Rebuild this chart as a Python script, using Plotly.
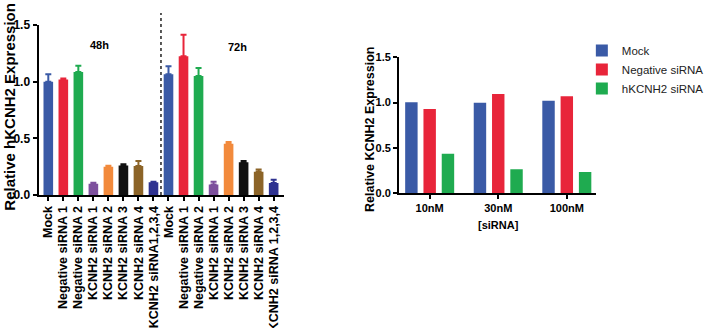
import plotly.graph_objects as go

# ---------------- data ----------------
left_labels = ["Mock", "Negative siRNA 1", "Negative siRNA 2", "KCNH2 siRNA 1",
               "KCNH2 siRNA 2", "KCNH2 siRNA 3", "KCNH2 siRNA 4", "KCNH2 siRNA1,2,3,4",
               "Mock", "Negative siRNA 1", "Negative siRNA 2", "KCNH2 siRNA 1",
               "KCNH2 siRNA 2", "KCNH2 siRNA 3", "KCNH2 siRNA 4", "KCNH2 siRNA 1,2,3,4"]
values_48h = [1.00, 1.02, 1.085, 0.10, 0.25, 0.26, 0.255, 0.112]
errors_48h = [0.065, 0.008, 0.055, 0.008, 0.008, 0.012, 0.045, 0.006]
values_72h = [1.065, 1.225, 1.05, 0.092, 0.452, 0.29, 0.205, 0.105]
errors_72h = [0.07, 0.19, 0.07, 0.025, 0.015, 0.01, 0.02, 0.03]
condition_colors = ["#3a5aa6", "#e8253a", "#1fab50", "#7d509d", "#f28a3c",
                    "#111111", "#8c6428", "#2f3290"]
time_labels = ["48h", "72h"]

right_categories = ["10nM", "30nM", "100nM"]
right_series = ["Mock", "Negative siRNA", "hKCNH2 siRNA"]
mock_vals = [1.003, 1.0, 1.022]
neg_vals = [0.93, 1.095, 1.07]
hkcnh2_vals = [0.435, 0.265, 0.235]
right_colors = ["#3a5aa6", "#e8253a", "#1fab50"]

# ---------------- figure ----------------
W, H = 709, 328
FONT = "Liberation Sans, Arial, sans-serif"
fig = go.Figure()

n_cond = len(values_48h)
bar_w = 0.64
for i in range(n_cond):
    xs = [i, i + n_cond]
    fig.add_trace(go.Bar(
        x=xs, y=[values_48h[i], values_72h[i]],
        width=bar_w, offset=-bar_w / 2,
        marker=dict(color=condition_colors[i], line=dict(width=0)),
        error_y=dict(type="data", symmetric=False,
                     array=[errors_48h[i], errors_72h[i]], arrayminus=[0, 0],
                     color=condition_colors[i], thickness=2, width=3),
        showlegend=False, xaxis="x", yaxis="y"))

right_vals = [mock_vals, neg_vals, hkcnh2_vals]
for name, vals, col in zip(right_series, right_vals, right_colors):
    fig.add_trace(go.Bar(
        x=list(range(len(right_categories))), y=vals, name=name,
        marker=dict(color=col, line=dict(width=0)),
        xaxis="x2", yaxis="y2"))

xr_left = [-0.65, len(left_labels) - 0.3]
tick_font_lx = dict(family=FONT, size=12.5, color="black", weight="bold")
tick_font_ly = dict(family=FONT, size=12, color="black", weight="bold")
tick_font_r = dict(family=FONT, size=11, color="black", weight="bold")

fig.update_layout(
    template="none",
    width=W, height=H, autosize=False,
    margin=dict(l=0, r=0, t=0, b=0),
    paper_bgcolor="white", plot_bgcolor="white",
    barmode="group", bargap=0.2, bargroupgap=0.32,
    font=dict(family=FONT, color="black"),
    xaxis=dict(domain=[40 / W, 295 / W], range=xr_left, automargin=False,
               tickvals=list(range(len(left_labels))), ticktext=left_labels,
               tickangle=-90, tickfont=tick_font_lx, ticks="outside", ticklen=4,
               tickwidth=1.5, tickcolor="black",
               showline=True, linecolor="black", linewidth=2,
               showgrid=False, zeroline=False, anchor="y"),
    yaxis=dict(domain=[1 - 195 / H, 1 - 25 / H], range=[0, 1.5], automargin=False,
               tickvals=[0, 0.5, 1.0, 1.5], ticktext=["0.0", "0.5", "1.0", "1.5"],
               tickfont=tick_font_ly, ticks="outside", ticklen=4, tickwidth=1.5,
               tickcolor="black", showline=True, linecolor="black", linewidth=2,
               showgrid=False, zeroline=False, anchor="x"),
    xaxis2=dict(domain=[414 / W, 619 / W], range=[-0.45, 2.43], automargin=False,
                tickvals=list(range(len(right_categories))), ticktext=right_categories,
                tickfont=tick_font_r, ticks="outside", ticklen=4, tickwidth=1.5,
                tickcolor="black", showline=True, linecolor="black", linewidth=1.5,
                showgrid=False, zeroline=False, anchor="y2"),
    yaxis2=dict(domain=[1 - 193.3 / H, 1 - 57.3 / H], range=[0, 1.5], automargin=False,
                tickvals=[0, 0.5, 1.0, 1.5], ticktext=["0.0", "0.5", "1.0", "1.5"],
                tickfont=tick_font_r, ticks="outside", ticklen=4, tickwidth=1.5,
                tickcolor="black", showline=True, linecolor="black", linewidth=1.5,
                showgrid=False, zeroline=False, anchor="x2"),
    legend=dict(x=604 / W, y=1 - 36 / H, xanchor="left", yanchor="top",
                font=dict(family=FONT, size=11.5, color="#222"),
                bgcolor="rgba(0,0,0,0)", tracegroupgap=0, itemwidth=30),
)

# dashed separator between 48h and 72h
sep_x = (n_cond - 0.5 - xr_left[0]) / (xr_left[1] - xr_left[0])
fig.add_shape(type="line", xref="x domain", yref="y domain",
              x0=sep_x, x1=sep_x, y0=0, y1=1.07,
              line=dict(color="black", width=1.3, dash="3px,3px"))

# time labels
fig.add_annotation(x=3.4, y=1.32, xref="x", yref="y", text=time_labels[0],
                   showarrow=False, font=dict(family=FONT, size=11, weight="bold"))
fig.add_annotation(x=12.6, y=1.31, xref="x", yref="y", text=time_labels[1],
                   showarrow=False, font=dict(family=FONT, size=11, weight="bold"))

# axis titles
fig.add_annotation(x=10 / W, y=1 - 107 / H, xref="paper", yref="paper",
                   text="Relative hKCNH2 Expression", textangle=-90, showarrow=False,
                   xanchor="center", yanchor="middle",
                   font=dict(family=FONT, size=15, weight="bold", color="black"))
fig.add_annotation(x=384 / W, y=1 - 129 / H, xref="paper", yref="paper",
                   text="Relative KCNH2 Expression", textangle=-90, showarrow=False,
                   xanchor="center", yanchor="middle",
                   font=dict(family=FONT, size=12.5, weight="bold", color="black"))
fig.add_annotation(x=517 / W, y=1 - 225 / H, xref="paper", yref="paper",
                   text="[siRNA]", showarrow=False, xanchor="center", yanchor="middle",
                   font=dict(family=FONT, size=11, weight="bold", color="black"))

fig.write_html("out.html", config={"displayModeBar": False},
               post_script="document.body.style.margin='0';document.body.style.overflow='hidden';")
